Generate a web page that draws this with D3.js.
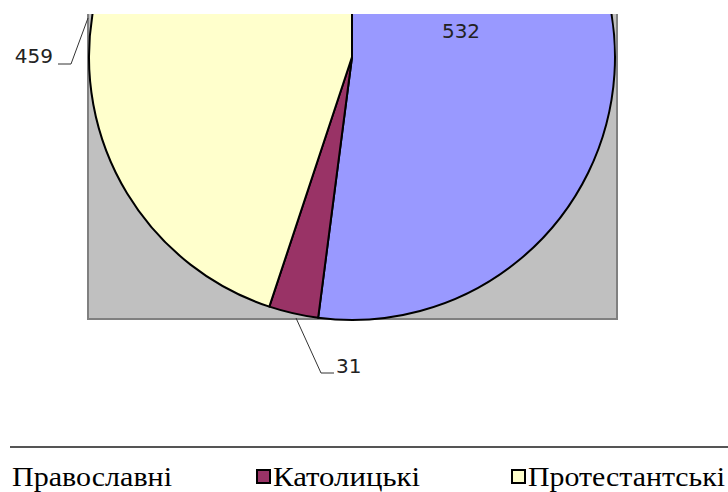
<!DOCTYPE html>
<html>
<head>
<meta charset="utf-8">
<script src="https://cdn.jsdelivr.net/npm/d3@7"></script>
<style>
  body { margin: 0; background: #fff; }
  svg { display: block; }
</style>
</head>
<body>
<script>
// data
var categories = ['Православні', 'Католицькі', 'Протестантські'];
var values = [532, 31, 459];
var colors = ['#9999FF', '#993366', '#FFFFCC'];

var svgWidth = 728;
var svgHeight = 492;
var cx = 352, cy = 57, radius = 263;

var svg = d3.select("body")
  .append("svg")
  .attr("width", svgWidth)
  .attr("height", svgHeight);

// the chart is cropped at the top
svg.append("clipPath").attr("id", "clip")
  .append("rect")
  .attr("x", 0).attr("y", 14)
  .attr("width", svgWidth).attr("height", svgHeight - 14);

var plot = svg.append("g").attr("clip-path", "url(#clip)");

// grey plot area
plot.append("rect")
  .attr("x", 88).attr("y", 0)
  .attr("width", 529).attr("height", 319)
  .attr("fill", "#C0C0C0")
  .attr("stroke", "#808080")
  .attr("stroke-width", 2);

var pie = d3.pie().sort(null).value(function(d) { return d; });
var piedata = pie(values);
var arc = d3.arc().innerRadius(0).outerRadius(radius);

var g = plot.append("g").attr("transform", "translate(" + cx + "," + cy + ")");
g.selectAll("path").data(piedata).enter().append("path")
  .attr("d", arc)
  .attr("fill", function(d, i) { return colors[i]; })
  .attr("stroke", "#000")
  .attr("stroke-width", 2)
  .attr("stroke-linejoin", "round");

// data labels
var labelPos = [
  { x: 461, y: 38, anchor: "middle", line: null },
  { x: 336, y: 373, anchor: "start", line: [[296, 318], [321, 373], [334, 373]] },
  { x: 53, y: 63, anchor: "end", line: [[88, 18], [71, 64], [58, 64]] }
];
piedata.forEach(function(d, i) {
  var p = labelPos[i];
  if (p.line) {
    svg.append("path")
      .attr("d", d3.line()(p.line))
      .attr("fill", "none")
      .attr("stroke", "#333")
      .attr("stroke-width", 1);
  }
  svg.append("text")
    .style("font-family", "'DejaVu Sans', sans-serif")
    .attr("x", p.x).attr("y", p.y)
    .attr("text-anchor", p.anchor)
    .attr("font-size", "20px")
    .attr("fill", "#222")
    .text(d.data);
});

// legend
svg.append("line")
  .attr("x1", 10).attr("x2", svgWidth)
  .attr("y1", 447).attr("y2", 447)
  .attr("stroke", "#555")
  .attr("stroke-width", 2);

var legendX = [-20, 257, 512];
var legendW = [160, 147, 197];
var legend = svg.selectAll("g.legend").data(categories).enter().append("g")
  .attr("class", "legend")
  .attr("transform", function(d, i) { return "translate(" + legendX[i] + ",0)"; });
legend.append("rect")
  .attr("x", 0).attr("y", 470)
  .attr("width", 13).attr("height", 13)
  .attr("fill", function(d, i) { return colors[i]; })
  .attr("stroke", "#000")
  .attr("stroke-width", 2);
legend.append("text")
  .style("font-family", "'Liberation Serif', 'DejaVu Serif', serif")
  .attr("x", function(d, i) { return i === 0 ? 32 : 16; })
  .attr("y", 486)
  .attr("font-size", "28px")
  .attr("textLength", function(d, i) { return legendW[i]; })
  .attr("lengthAdjust", "spacingAndGlyphs")
  .attr("fill", "#000")
  .text(function(d) { return d; });
</script>
</body>
</html>
